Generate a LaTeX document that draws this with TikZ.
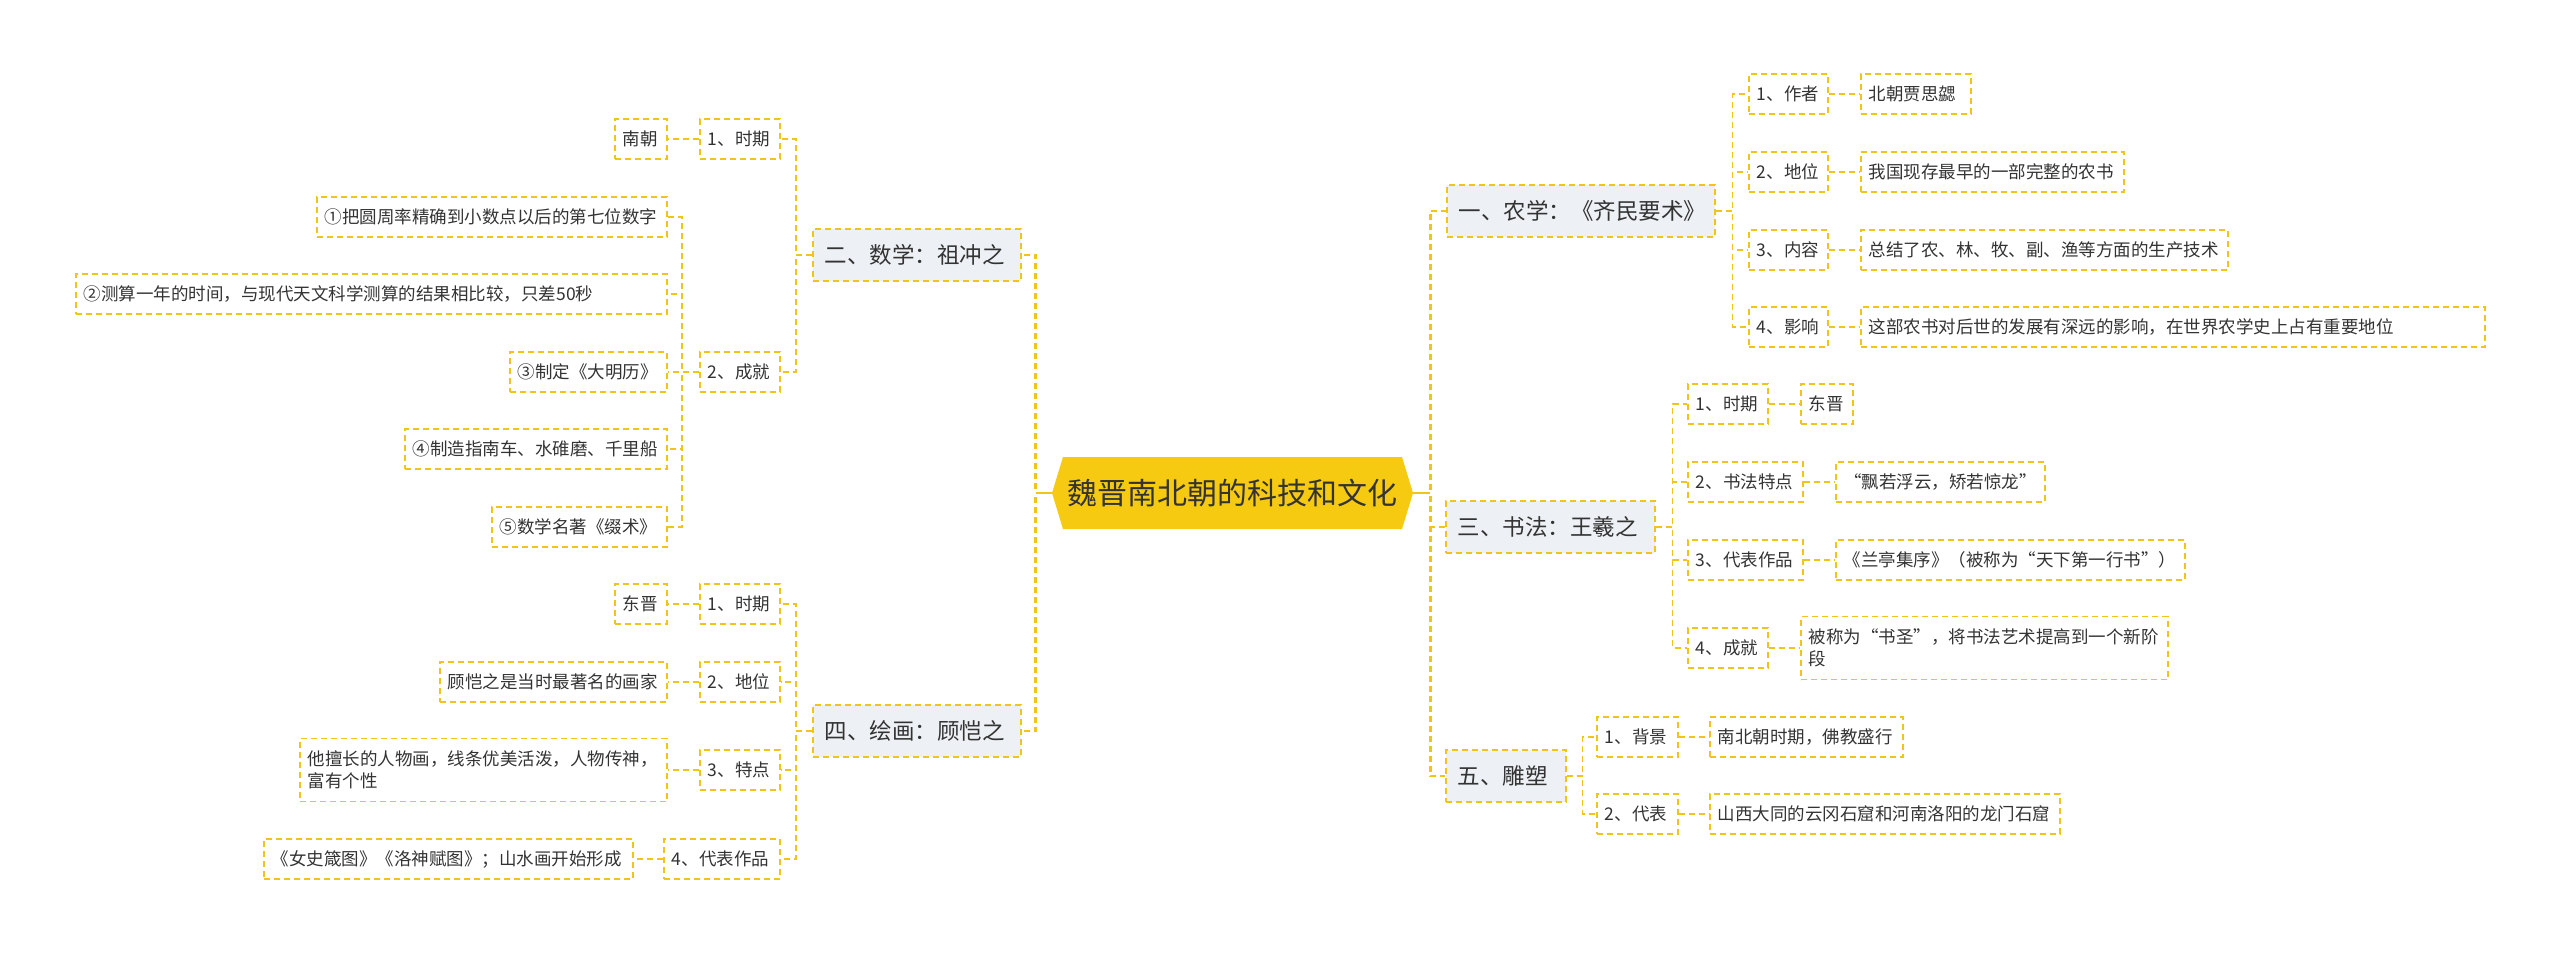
\documentclass[tikz,border=0pt]{standalone}
\usepackage{fontspec}
\newfontfamily\cjk{Noto Sans CJK SC}
\definecolor{lineY}{HTML}{F0C419}
\definecolor{rootY}{HTML}{F5CA10}
\definecolor{grayF}{HTML}{EDF0F4}
\definecolor{txt}{HTML}{333333}
\begin{document}
\begin{tikzpicture}[x=1pt,y=-1pt,
  box/.style={draw=lineY, line width=1.6pt, dash pattern=on 6pt off 4pt,
    inner xsep=8pt, inner ysep=0pt, minimum height=40pt, text=txt,
    font=\cjk\fontsize{17.5}{22}\selectfont, align=left, anchor=west},
  lvl/.style={box, fill=grayF, minimum height=52pt, inner xsep=12pt,
    font=\cjk\fontsize{22.5}{27}\selectfont},
  conn/.style={draw=lineY, line width=1.6pt, dash pattern=on 6pt off 4pt},
  trunk/.style={draw=lineY, line width=2.8pt, dash pattern=on 6pt off 4pt},
  stub/.style={draw=lineY, line width=2.4pt},
  rootnode/.style={fill=white, inner sep=0pt, minimum width=361pt, minimum height=72pt,
    text=txt, font=\cjk\fontsize{30}{34}\selectfont,
    path picture={\fill[rootY] (path picture bounding box.west)
      -- ([xshift=11pt]path picture bounding box.north west)
      -- ([xshift=-11pt]path picture bounding box.north east)
      -- (path picture bounding box.east)
      -- ([xshift=-11pt]path picture bounding box.south east)
      -- ([xshift=11pt]path picture bounding box.south west) -- cycle;}}
]
\useasboundingbox (0,0) rectangle (2560,954);

% root
\node[rootnode] (root) at (1232.5,493) {魏晋南北朝的科技和文化};

% ---------- left: 二 ----------
\node[lvl, text width=184pt] (m2) at (812,255) {二、数学：祖冲之};
\node[box, text width=64pt] (m2a) at (699,139) {1、时期};
\node[box, text width=64pt] (m2b) at (699,372) {2、成就};
\node[box, text width=36pt] (m2a1) at (614,139) {南朝};
\node[box, text width=334pt] (m2b1) at (316,217) {①把圆周率精确到小数点以后的第七位数字};
\node[box, text width=575pt] (m2b2) at (75,294) {②测算一年的时间，与现代天文科学测算的结果相比较，只差50秒};
\node[box, text width=141pt] (m2b3) at (509,372) {③制定《大明历》};
\node[box, text width=246pt] (m2b4) at (404,449) {④制造指南车、水碓磨、千里船};
\node[box, text width=159pt] (m2b5) at (491,527) {⑤数学名著《缀术》};

% ---------- left: 四 ----------
\node[lvl, text width=184pt] (m4) at (812,731) {四、绘画：顾恺之};
\node[box, text width=64pt] (m4a) at (699,604) {1、时期};
\node[box, text width=64pt] (m4b) at (699,682) {2、地位};
\node[box, text width=64pt] (m4c) at (699,770) {3、特点};
\node[box, text width=100pt] (m4d) at (663,859) {4、代表作品};
\node[box, text width=36pt] (m4a1) at (614,604) {东晋};
\node[box, text width=211pt] (m4b1) at (439,682) {顾恺之是当时最著名的画家};
\node[box, text width=351pt, minimum height=63pt] (m4c1) at (299,770) {他擅长的人物画，线条优美活泼，人物传神，\\富有个性};
\node[box, text width=353pt] (m4d1) at (263,859) {《女史箴图》《洛神赋图》；山水画开始形成};

% ---------- right: 一 ----------
\node[lvl, text width=244pt] (m1) at (1446,211) {一、农学：《齐民要术》};
\node[box, text width=63pt] (m1a) at (1748,94) {1、作者};
\node[box, text width=63pt] (m1b) at (1748,172) {2、地位};
\node[box, text width=63pt] (m1c) at (1748,250) {3、内容};
\node[box, text width=63pt] (m1d) at (1748,327) {4、影响};
\node[box, text width=94pt] (m1a1) at (1860,94) {北朝贾思勰};
\node[box, text width=247pt] (m1b1) at (1860,172) {我国现存最早的一部完整的农书};
\node[box, text width=351pt] (m1c1) at (1860,250) {总结了农、林、牧、副、渔等方面的生产技术};
\node[box, text width=608pt] (m1d1) at (1860,327) {这部农书对后世的发展有深远的影响，在世界农学史上占有重要地位};

% ---------- right: 三 ----------
\node[lvl, text width=185pt] (m3) at (1445,527) {三、书法：王羲之};
\node[box, text width=64pt] (m3a) at (1687,404) {1、时期};
\node[box, text width=99pt] (m3b) at (1687,482) {2、书法特点};
\node[box, text width=99pt] (m3c) at (1687,560) {3、代表作品};
\node[box, text width=64pt] (m3d) at (1687,648) {4、成就};
\node[box, text width=36pt] (m3a1) at (1800,404) {东晋};
\node[box, text width=193pt, align=center] (m3b1) at (1835,482) {“飘若浮云，矫若惊龙”};
\node[box, text width=333pt] (m3c1) at (1835,560) {《兰亭集序》（被称为“天下第一行书”）};
\node[box, text width=351pt, minimum height=63pt] (m3d1) at (1800,648) {被称为“书圣”，将书法艺术提高到一个新阶\\段};

% ---------- right: 五 ----------
\node[lvl, text width=96pt] (m5) at (1445,776) {五、雕塑};
\node[box, text width=65pt] (m5a) at (1596,737) {1、背景};
\node[box, text width=65pt] (m5b) at (1596,814) {2、代表};
\node[box, text width=177pt] (m5a1) at (1709,737) {南北朝时期，佛教盛行};
\node[box, text width=334pt] (m5b1) at (1709,814) {山西大同的云冈石窟和河南洛阳的龙门石窟};

% ---------- trunk connectors ----------
\draw[trunk] (root.west) -- ++(-16,0) |- (m2.east);
\draw[trunk] (root.west) -- ++(-16,0) |- (m4.east);
\draw[trunk] (root.east) -- ++(17,0) |- (m1.west);
\draw[trunk] (root.east) -- ++(17,0) |- (m3.west);
\draw[trunk] (root.east) -- ++(17,0) |- (m5.west);
\draw[stub] (root.west) -- ++(-16,0);
\draw[stub] (root.east) -- ++(17,0);

% ---------- level 2 connectors ----------
\foreach \c in {m2a,m2b} \draw[conn] (m2.west) -- ++(-16,0) |- (\c.east);
\foreach \c in {m4a,m4b,m4c,m4d} \draw[conn] (m4.west) -- ++(-16,0) |- (\c.east);
\foreach \c in {m1a,m1b,m1c,m1d} \draw[conn] (m1.east) -- ++(17,0) |- (\c.west);
\foreach \c in {m3a,m3b,m3c,m3d} \draw[conn] (m3.east) -- ++(17,0) |- (\c.west);
\foreach \c in {m5a,m5b} \draw[conn] (m5.east) -- ++(16,0) |- (\c.west);

% ---------- leaf connectors ----------
\draw[conn] (m2a.west) -- (m2a1.east);
\foreach \c in {m2b1,m2b2,m2b3,m2b4,m2b5} \draw[conn] (m2b.west) -- ++(-17,0) |- (\c.east);
\draw[conn] (m4a.west) -- (m4a1.east);
\draw[conn] (m4b.west) -- (m4b1.east);
\draw[conn] (m4c.west) -- (m4c1.east);
\draw[conn] (m4d.west) -- (m4d1.east);
\draw[conn] (m1a.east) -- (m1a1.west);
\draw[conn] (m1b.east) -- (m1b1.west);
\draw[conn] (m1c.east) -- (m1c1.west);
\draw[conn] (m1d.east) -- (m1d1.west);
\draw[conn] (m3a.east) -- (m3a1.west);
\draw[conn] (m3b.east) -- (m3b1.west);
\draw[conn] (m3c.east) -- (m3c1.west);
\draw[conn] (m3d.east) -- (m3d1.west);
\draw[conn] (m5a.east) -- (m5a1.west);
\draw[conn] (m5b.east) -- (m5b1.west);
\end{tikzpicture}
\end{document}
